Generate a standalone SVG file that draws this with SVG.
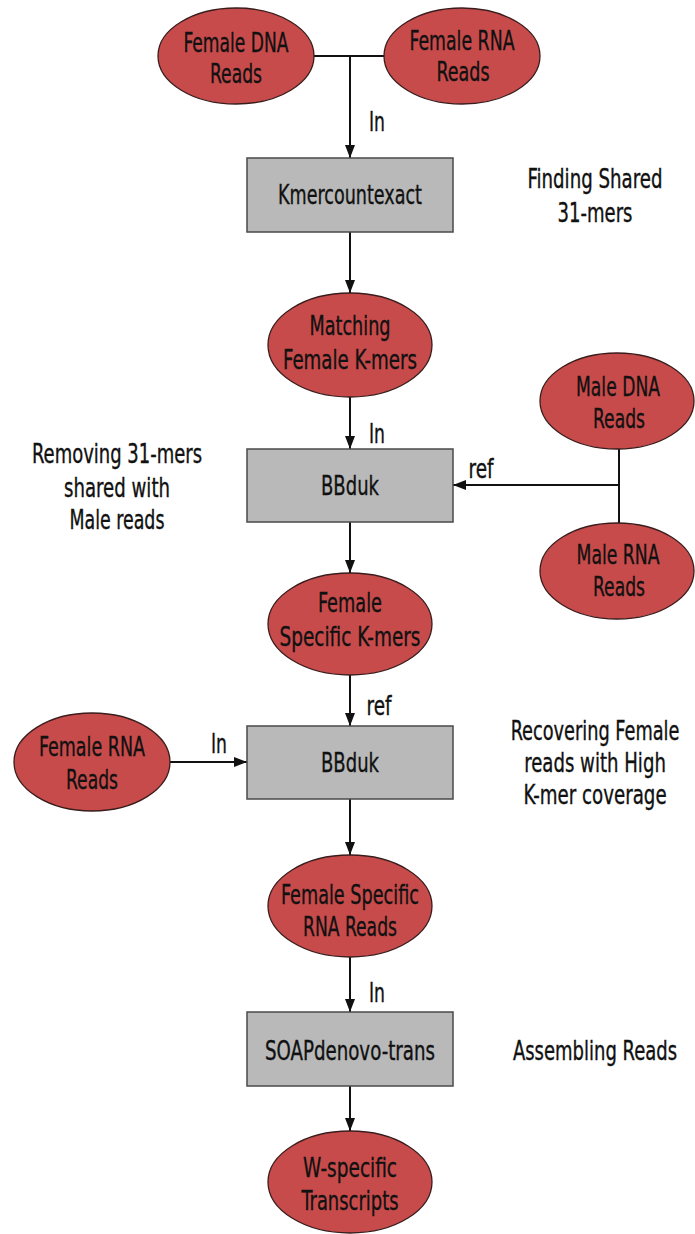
<svg xmlns="http://www.w3.org/2000/svg" width="695" height="1234" viewBox="0 0 695 1234">
<style>
text{font-family:"Liberation Sans Narrow","DejaVu Sans Condensed","Liberation Sans",sans-serif;font-size:26px;fill:#111;stroke:#111;stroke-width:0.35;text-anchor:middle}
.el{fill:#c84b4b;stroke:#3a1c1c;stroke-width:1.3}
.bx{fill:#b9b9b9;stroke:#4a4a4a;stroke-width:1.5}
.ln{stroke:#111;stroke-width:2;fill:none}
.ar{marker-end:url(#ah)}
</style>
<defs>
<marker id="ah" markerUnits="userSpaceOnUse" markerWidth="14" markerHeight="11" refX="13" refY="5" orient="auto">
<path d="M0,0 L13,5 L0,10 z" fill="#111"/>
</marker>
</defs>
<rect width="695" height="1234" fill="#fff"/>
<g id="connectors">
<line class="ln" x1="314" y1="56" x2="385" y2="56"/>
<line class="ln ar" x1="350" y1="56" x2="350" y2="158"/>
<line class="ln ar" x1="350" y1="232" x2="350" y2="293"/>
<line class="ln ar" x1="350" y1="397" x2="350" y2="449"/>
<line class="ln" x1="619" y1="449" x2="619" y2="523"/>
<line class="ln ar" x1="619" y1="485" x2="453" y2="485"/>
<line class="ln ar" x1="350" y1="522" x2="350" y2="573"/>
<line class="ln ar" x1="350" y1="675" x2="350" y2="726"/>
<line class="ln ar" x1="170" y1="762" x2="247" y2="762"/>
<line class="ln ar" x1="350" y1="799" x2="350" y2="855"/>
<line class="ln ar" x1="350" y1="957" x2="350" y2="1012"/>
<line class="ln ar" x1="350" y1="1086" x2="350" y2="1131"/>
<text x="377" y="131" textLength="16" lengthAdjust="spacingAndGlyphs">In</text>
<text x="377" y="443" textLength="16" lengthAdjust="spacingAndGlyphs">In</text>
<text x="481" y="478" textLength="25" lengthAdjust="spacingAndGlyphs">ref</text>
<text x="379" y="715" textLength="25" lengthAdjust="spacingAndGlyphs">ref</text>
<text x="219" y="753" textLength="16" lengthAdjust="spacingAndGlyphs">In</text>
<text x="377" y="1002" textLength="16" lengthAdjust="spacingAndGlyphs">In</text>
</g>
<g id="n-female-dna">
<ellipse class="el" cx="236" cy="56" rx="78" ry="48"/>
<text x="236" y="52" textLength="105" lengthAdjust="spacingAndGlyphs">Female DNA</text>
<text x="236" y="83" textLength="52" lengthAdjust="spacingAndGlyphs">Reads</text>
</g>
<g id="n-female-rna">
<ellipse class="el" cx="462" cy="56" rx="78" ry="48"/>
<text x="462" y="50" textLength="105" lengthAdjust="spacingAndGlyphs">Female RNA</text>
<text x="463" y="81" textLength="53" lengthAdjust="spacingAndGlyphs">Reads</text>
</g>
<g id="n-kmercountexact">
<rect class="bx" x="247" y="158" width="206" height="74"/>
<text x="350" y="204" textLength="144" lengthAdjust="spacingAndGlyphs">Kmercountexact</text>
</g>
<g id="n-matching">
<ellipse class="el" cx="350" cy="345" rx="82" ry="52"/>
<text x="350" y="335" textLength="81" lengthAdjust="spacingAndGlyphs">Matching</text>
<text x="350" y="369" textLength="134" lengthAdjust="spacingAndGlyphs">Female K-mers</text>
</g>
<g id="n-bbduk1">
<rect class="bx" x="247" y="449" width="206" height="73"/>
<text x="350" y="495" textLength="58" lengthAdjust="spacingAndGlyphs">BBduk</text>
</g>
<g id="n-male-dna">
<ellipse class="el" cx="617" cy="401" rx="77" ry="48"/>
<text x="618" y="396" textLength="84" lengthAdjust="spacingAndGlyphs">Male DNA</text>
<text x="619" y="428" textLength="52" lengthAdjust="spacingAndGlyphs">Reads</text>
</g>
<g id="n-male-rna">
<ellipse class="el" cx="617" cy="571" rx="77" ry="48"/>
<text x="618" y="564" textLength="83" lengthAdjust="spacingAndGlyphs">Male RNA</text>
<text x="619" y="596" textLength="52" lengthAdjust="spacingAndGlyphs">Reads</text>
</g>
<g id="n-female-specific-kmers">
<ellipse class="el" cx="350" cy="624" rx="82" ry="51"/>
<text x="350" y="612" textLength="64" lengthAdjust="spacingAndGlyphs">Female</text>
<text x="350" y="646" textLength="141" lengthAdjust="spacingAndGlyphs">Specific K-mers</text>
</g>
<g id="n-female-rna-2">
<ellipse class="el" cx="92" cy="762" rx="78" ry="49"/>
<text x="92" y="756" textLength="106" lengthAdjust="spacingAndGlyphs">Female RNA</text>
<text x="92" y="789" textLength="52" lengthAdjust="spacingAndGlyphs">Reads</text>
</g>
<g id="n-bbduk2">
<rect class="bx" x="247" y="726" width="206" height="73"/>
<text x="350" y="772" textLength="58" lengthAdjust="spacingAndGlyphs">BBduk</text>
</g>
<g id="n-female-specific-rna">
<ellipse class="el" cx="350" cy="906" rx="82" ry="51"/>
<text x="350" y="904" textLength="138" lengthAdjust="spacingAndGlyphs">Female Specific</text>
<text x="350" y="936" textLength="94" lengthAdjust="spacingAndGlyphs">RNA Reads</text>
</g>
<g id="n-soapdenovo">
<rect class="bx" x="247" y="1012" width="206" height="74"/>
<text x="350" y="1060" textLength="170" lengthAdjust="spacingAndGlyphs">SOAPdenovo-trans</text>
</g>
<g id="n-w-specific">
<ellipse class="el" cx="350" cy="1182" rx="82" ry="51"/>
<text x="350" y="1177" textLength="94" lengthAdjust="spacingAndGlyphs">W-specific</text>
<text x="350" y="1210" textLength="97" lengthAdjust="spacingAndGlyphs">Transcripts</text>
</g>
<g id="annotations">
<g transform="translate(595 0) scale(0.75 1)">
<text x="0" y="188" textLength="180" lengthAdjust="spacingAndGlyphs">Finding Shared</text>
<text x="0" y="222" textLength="100" lengthAdjust="spacingAndGlyphs">31-mers</text>
<text x="0" y="740" textLength="225" lengthAdjust="spacingAndGlyphs">Recovering Female</text>
<text x="0" y="772" textLength="189" lengthAdjust="spacingAndGlyphs">reads with High</text>
<text x="0" y="804" textLength="191" lengthAdjust="spacingAndGlyphs">K-mer coverage</text>
<text x="0" y="1060" textLength="219" lengthAdjust="spacingAndGlyphs">Assembling Reads</text>
</g>
<text x="117" y="463" textLength="170" lengthAdjust="spacingAndGlyphs">Removing 31-mers</text>
<text x="117" y="497" textLength="106" lengthAdjust="spacingAndGlyphs">shared with</text>
<text x="117" y="529" textLength="95" lengthAdjust="spacingAndGlyphs">Male reads</text>
</g>
</svg>
